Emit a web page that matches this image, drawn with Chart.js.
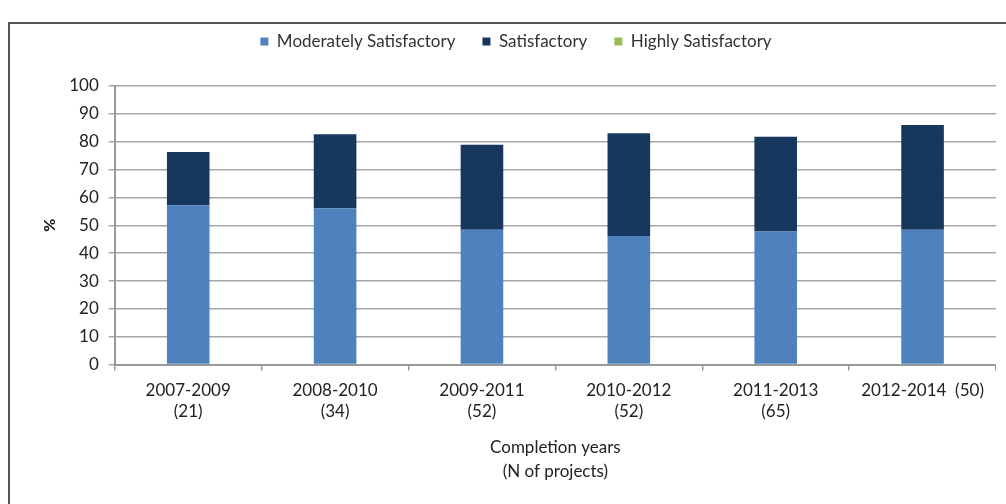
<!DOCTYPE html>
<html>
<head>
<meta charset="utf-8">
<script src="https://cdn.jsdelivr.net/npm/chart.js@4/dist/chart.umd.min.js"></script>
<style>
    html, body { margin: 0; padding: 0; background: #fff; overflow: hidden; }
    body { width: 1006px; height: 504px; position: relative; }
    .box {
        position: absolute; left: 8px; top: 22px; width: 1010px; height: 500px;
        border: 2px solid #555; box-sizing: border-box;
    }
    .wrap { position: absolute; left: 0; top: 0; width: 986px; height: 459px; }
</style>
</head>
<body>
<div class="box">
    <div class="wrap"><canvas id="ratingsChart"></canvas></div>
</div>
<script>
// Completion periods and number of projects
const categories = [
    ['2007-2009', '(21)'],
    ['2008-2010', '(34)'],
    ['2009-2011', '(52)'],
    ['2010-2012', '(52)'],
    ['2011-2013', '(65)'],
    '2012-2014  (50)'
];

// Share of projects (%) by rating
const moderately = [57.2, 56.1, 48.4, 46.2, 47.8, 48.4];
const satisfactory = [19.1, 26.6, 30.5, 36.8, 34.0, 37.6];
const highly = [0, 0, 0, 0, 0, 0];

const yTicks = { min: 0, max: 100, step: 10 };

// adds some room between the legend and the plot
const legendGap = {
    id: 'legendGap',
    beforeInit(chart) {
        const fit = chart.legend.fit;
        chart.legend.fit = function() {
            fit.bind(chart.legend)();
            this.height += 26;
        };
    }
};

document.addEventListener('DOMContentLoaded', function() {
    const ctx = document.getElementById('ratingsChart').getContext('2d');
    const font = "Lato, 'Open Sans', sans-serif";

    new Chart(ctx, {
        type: 'bar',
        data: {
            labels: categories,
            datasets: [
                { label: 'Moderately Satisfactory', data: moderately, backgroundColor: '#4F81BD' },
                { label: 'Satisfactory', data: satisfactory, backgroundColor: '#17375E' },
                { label: 'Highly Satisfactory', data: highly, backgroundColor: '#9BBB59' }
            ]
        },
        options: {
            responsive: true,
            maintainAspectRatio: false,
            animation: false,
            devicePixelRatio: 1,
            layout: { padding: { left: 26, right: 0, top: -18, bottom: 0 } },
            datasets: {
                bar: { categoryPercentage: 1, barPercentage: 0.29 }
            },
            plugins: {
                legend: {
                    position: 'top',
                    labels: {
                        boxWidth: 8,
                        boxHeight: 8,
                        padding: 27,
                        color: '#333',
                        font: { family: font, size: 17 }
                    }
                },
                tooltip: { enabled: false }
            },
            scales: {
                x: {
                    stacked: true,
                    grid: {
                        offset: true,
                        drawOnChartArea: false,
                        color: '#999',
                        lineWidth: 1.5,
                        tickLength: 6
                    },
                    border: { color: '#999', width: 2 },
                    ticks: {
                        color: '#222',
                        maxRotation: 0,
                        autoSkip: false,
                        padding: 10,
                        font: { family: font, size: 17, lineHeight: 1.2 }
                    },
                    title: {
                        display: true,
                        text: ['Completion years', '(N of projects)'],
                        color: '#222',
                        padding: { top: 4, bottom: 0 },
                        font: { family: font, size: 17, lineHeight: 1.4 }
                    }
                },
                y: {
                    stacked: true,
                    min: yTicks.min,
                    max: yTicks.max,
                    grid: {
                        color: '#a6a6a6',
                        lineWidth: 1.5,
                        tickLength: 6
                    },
                    border: { color: '#999', width: 2 },
                    ticks: {
                        stepSize: yTicks.step,
                        color: '#222',
                        padding: 10,
                        font: { family: font, size: 17 }
                    },
                    title: {
                        display: true,
                        text: '%',
                        color: '#111',
                        padding: { bottom: 0 },
                        font: { family: font, size: 16, weight: 'bold' }
                    }
                }
            }
        },
        plugins: [legendGap]
    });
});
</script>
</body>
</html>
